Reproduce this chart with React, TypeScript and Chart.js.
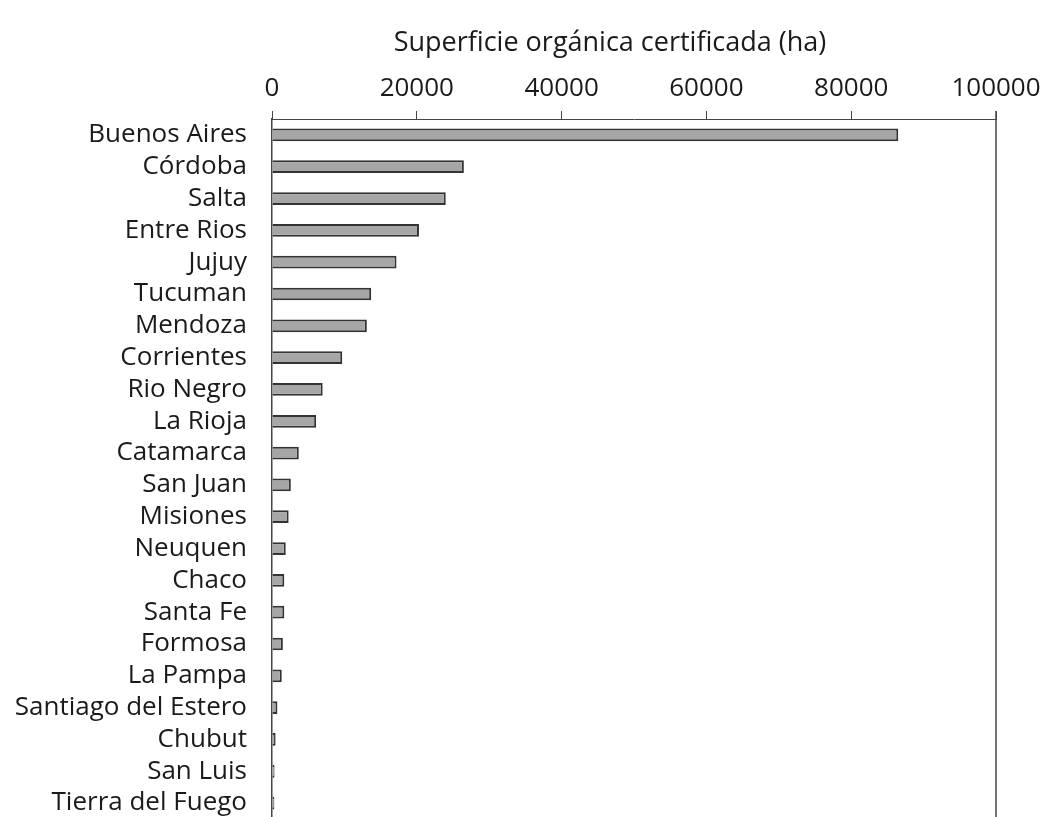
import React, { useEffect, useRef } from "react";
import { Chart, registerables } from "chart.js";

Chart.register(...registerables);

const provinces = [
  "Buenos Aires", "Córdoba", "Salta", "Entre Rios", "Jujuy", "Tucuman", "Mendoza",
  "Corrientes", "Rio Negro", "La Rioja", "Catamarca", "San Juan", "Misiones", "Neuquen",
  "Chaco", "Santa Fe", "Formosa", "La Pampa", "Santiago del Estero", "Chubut", "San Luis",
  "Tierra del Fuego",
];
const hectares = [
  86500, 26500, 24000, 20300, 17200, 13700, 13100,
  9700, 7000, 6100, 3700, 2600, 2300, 1900,
  1700, 1700, 1500, 1350, 750, 500, 350,
  320,
];
const axisTitle = "Superficie orgánica certificada (ha)";
const xMin = 0;
const xMax = 100000;
const xStep = 20000;

const FONT = "'Open Sans', Lato, sans-serif";

export default function App() {
  const ref = useRef<HTMLCanvasElement | null>(null);
  useEffect(() => {
    if (!ref.current) return;
    const titlePlugin = {
      id: "topTitle",
      afterDraw(chart: any) {
        const ctx = chart.ctx;
        ctx.save();
        ctx.font = `27px ${FONT}`;
        ctx.fillStyle = "#1a1a1a";
        ctx.textAlign = "center";
        ctx.textBaseline = "middle";
        ctx.fillText(axisTitle, 610, 43);
        // right frame line
        const x = chart.scales.x;
        const ca = chart.chartArea;
        ctx.strokeStyle = "#444";
        ctx.lineWidth = 1.5;
        ctx.beginPath();
        ctx.moveTo(x.right, ca.top - 8);
        ctx.lineTo(x.right, ca.bottom);
        ctx.stroke();
        ctx.restore();
      },
    };
    const chart = new Chart(ref.current, {
      type: "bar",
      data: {
        labels: provinces,
        datasets: [
          {
            data: hectares,
            backgroundColor: "#a6a6a6",
            borderColor: "#333333",
            borderWidth: 2,
            barPercentage: 0.4,
            categoryPercentage: 1,
          },
        ],
      },
      options: {
        indexAxis: "y",
        animation: false,
        responsive: false,
        maintainAspectRatio: false,
        layout: { padding: { top: 0, right: 50, bottom: 11, left: 0 } },
        plugins: { legend: { display: false }, tooltip: { enabled: false } },
        scales: {
          x: {
            position: "top",
            min: xMin,
            max: xMax,
            ticks: {
              stepSize: xStep,
              color: "#1a1a1a",
              font: { family: FONT, size: 26 },
              padding: 7,
              maxRotation: 0,
              callback: (v: any) => String(v),
            },
            grid: {
              display: true,
              drawOnChartArea: false,
              drawTicks: true,
              tickLength: 8,
              color: "#444",
              lineWidth: 1,
            },
            border: { display: true, color: "#444", width: 1 },
            afterFit: (scale: any) => {
              scale.height = 119;
              scale.paddingLeft = 0;
              scale.paddingRight = 0;
            },
          },
          y: {
            ticks: {
              color: "#1a1a1a",
              font: { family: FONT, size: 26 },
              padding: 25,
              autoSkip: false,
            },
            grid: { display: false, drawTicks: false },
            border: { display: true, color: "#444", width: 1.5 },
            afterFit: (scale: any) => {
              scale.width = 272;
              scale.paddingTop = 0;
              scale.paddingBottom = 0;
            },
          },
        },
      },
      plugins: [titlePlugin],
    });
    return () => chart.destroy();
  }, []);
  return (
    <div style={{ position: "absolute", left: 0, top: 0, width: 1046, height: 817, overflow: "hidden", background: "#fff" }}>
      <div style={{ position: "relative", width: 1046, height: 830 }}>
        <canvas ref={ref} width={1046} height={830} style={{ display: "block", width: 1046, height: 830 }} />
      </div>
    </div>
  );
}
